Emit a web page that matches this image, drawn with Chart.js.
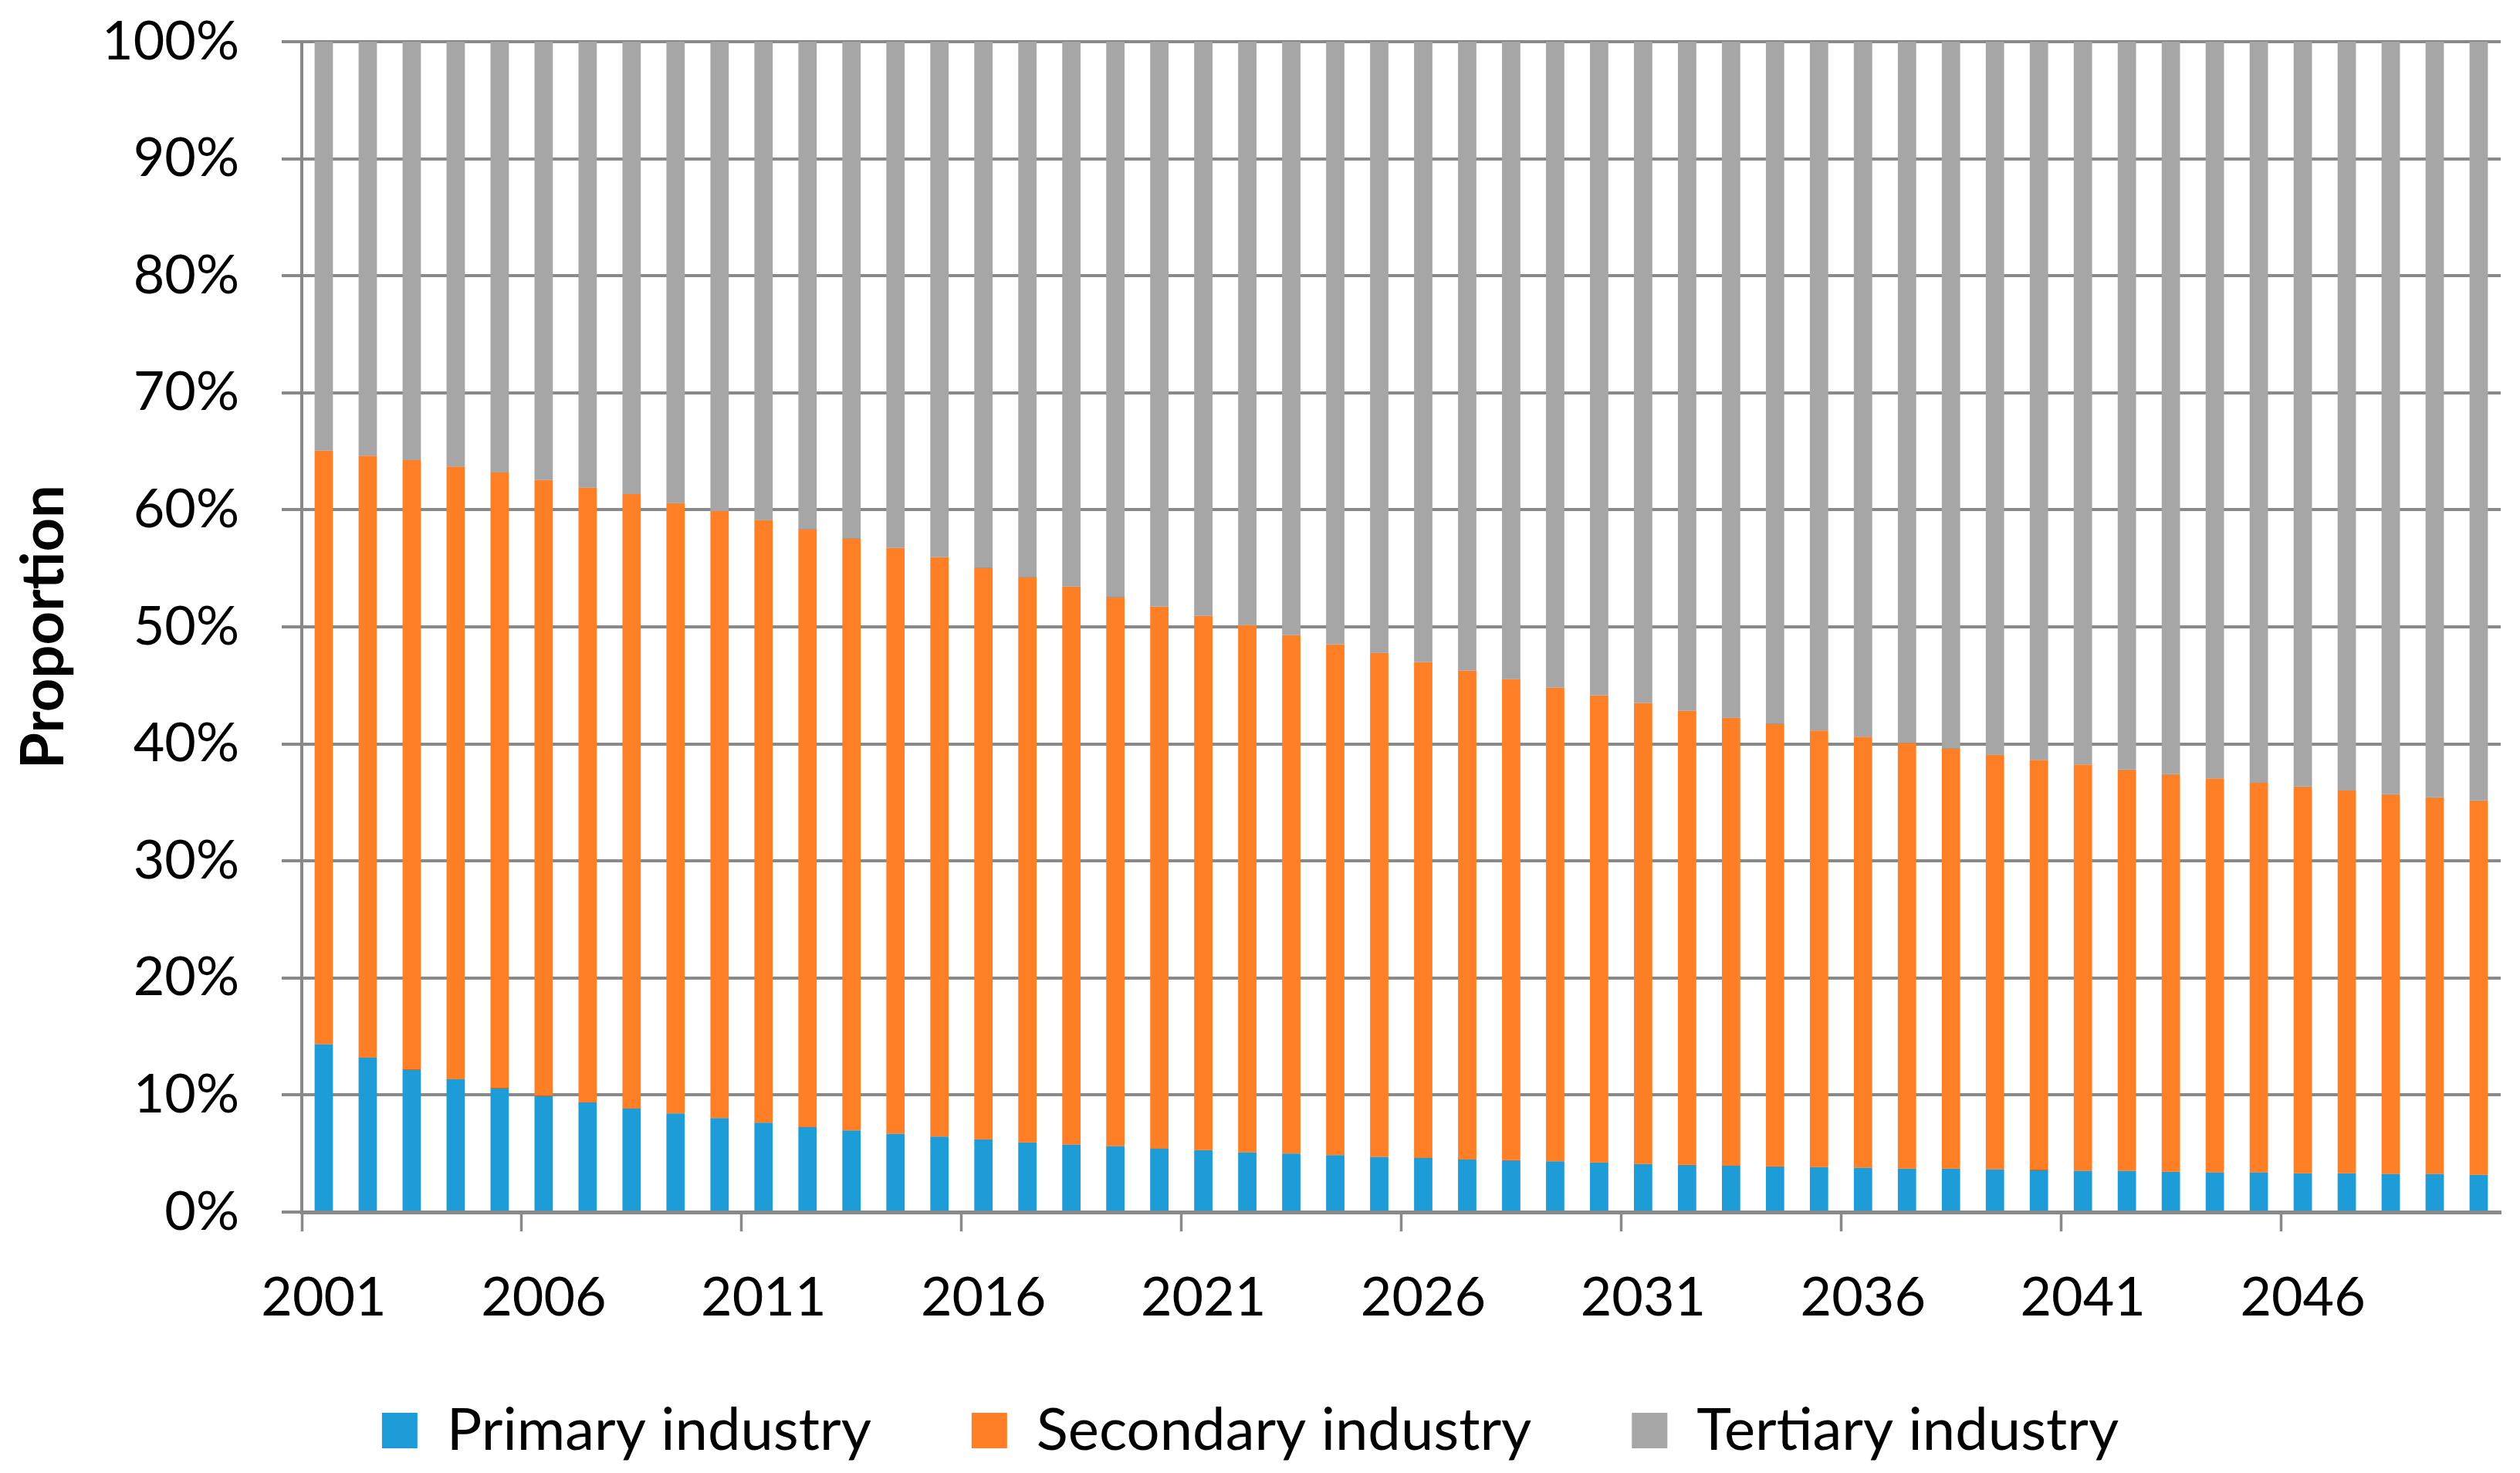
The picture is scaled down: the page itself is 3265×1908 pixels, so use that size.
<!DOCTYPE html>
<html>
<head>
<meta charset="utf-8">
<script src="https://cdn.jsdelivr.net/npm/chart.js@4.4.0/dist/chart.umd.min.js"></script>
<style>
  html, body { margin: 0; padding: 0; background: #fff; }
  canvas { display: block; }
</style>
</head>
<body>
<canvas id="myChart" width="3265" height="1908"></canvas>
<script>
const years = [];
for (let y = 2001; y <= 2050; y++) years.push(String(y));

// proportions in %
const primary = [
    14.34, 13.20, 12.20, 11.35, 10.62, 9.96, 9.42, 8.89, 8.43, 8.03,
    7.63, 7.30, 6.97, 6.70, 6.44, 6.24, 5.97, 5.77, 5.64, 5.46,
    5.31, 5.12, 4.99, 4.86, 4.72, 4.66, 4.53, 4.44, 4.33, 4.26,
    4.13, 4.04, 4.00, 3.91, 3.86, 3.80, 3.73, 3.73, 3.66, 3.62,
    3.53, 3.53, 3.47, 3.40, 3.40, 3.33, 3.33, 3.27, 3.27, 3.20
];
const secondary = [
    50.73, 51.43, 52.04, 52.36, 52.57, 52.61, 52.50, 52.46, 52.17, 51.87,
    51.53, 51.07, 50.61, 50.05, 49.52, 48.84, 48.32, 47.69, 46.94, 46.29,
    45.65, 45.06, 44.31, 43.65, 43.08, 42.34, 41.74, 41.13, 40.49, 39.91,
    39.38, 38.81, 38.26, 37.84, 37.28, 36.81, 36.36, 35.92, 35.44, 35.02,
    34.72, 34.28, 33.94, 33.66, 33.27, 33.03, 32.68, 32.43, 32.17, 31.98
];
const tertiary = [
    34.93, 35.37, 35.76, 36.29, 36.81, 37.43, 38.08, 38.65, 39.40, 40.10,
    40.84, 41.63, 42.42, 43.25, 44.04, 44.92, 45.71, 46.54, 47.42, 48.25,
    49.04, 49.82, 50.70, 51.49, 52.20, 53.00, 53.73, 54.43, 55.18, 55.83,
    56.49, 57.15, 57.74, 58.25, 58.86, 59.39, 59.91, 60.35, 60.90, 61.36,
    61.75, 62.19, 62.59, 62.94, 63.33, 63.64, 63.99, 64.30, 64.56, 64.82
];
const seriesNames = ['Primary industry', 'Secondary industry', 'Tertiary industry'];
const labelStep = 5;

const axisGrey = '#898989';
const fontName = 'Lato';

// the legend box overlaps the x scale a bit, so let the year labels draw below it
const xLabelRoom = {
    id: 'xLabelRoom',
    afterLayout(chart) {
        chart.scales.x.bottom = chart.height;
    }
};

const ctx = document.getElementById('myChart');

new Chart(ctx, {
    type: 'bar',
    data: {
        labels: years,
        datasets: [
            { label: seriesNames[0], data: primary, backgroundColor: '#1e9cd8' },
            { label: seriesNames[1], data: secondary, backgroundColor: '#ff7f27' },
            { label: seriesNames[2], data: tertiary, backgroundColor: '#a6a6a6' }
        ]
    },
    plugins: [xLabelRoom],
    options: {
        responsive: false,
        devicePixelRatio: 1,
        animation: false,
        datasets: {
            bar: { categoryPercentage: 1, barPercentage: 0.417 }
        },
        layout: {
            padding: { left: 0, right: 25, top: 54, bottom: 7 }
        },
        scales: {
            x: {
                stacked: true,
                afterFit: (scale) => {
                    scale.height = 115;
                    scale.paddingLeft = 0;
                    scale.paddingRight = 0;
                },
                grid: {
                    offset: true,
                    drawOnChartArea: false,
                    tickLength: 25,
                    tickWidth: 3.5,
                    tickColor: (c) => (c.index % labelStep === 0 ? axisGrey : 'rgba(0,0,0,0)')
                },
                border: { display: true, color: axisGrey, width: 5 },
                ticks: {
                    autoSkip: false,
                    maxRotation: 0,
                    padding: 44,
                    color: '#000',
                    font: { family: fontName, size: 70 },
                    callback: (val, i) => (i % labelStep === 0 ? years[i] : '')
                }
            },
            y: {
                stacked: true,
                min: 0,
                max: 100,
                afterFit: (scale) => {
                    scale.width = 391;
                    scale.paddingTop = 0;
                    scale.paddingBottom = 0;
                },
                grid: {
                    color: axisGrey,
                    lineWidth: 4,
                    tickLength: 26
                },
                border: { display: true, color: axisGrey, width: 4 },
                ticks: {
                    stepSize: 10,
                    padding: 55,
                    color: '#000',
                    font: { family: fontName, size: 70 },
                    callback: (v) => v + '%'
                },
                title: {
                    display: true,
                    text: 'Proportion',
                    color: '#000',
                    font: { family: fontName, size: 76, weight: 'bold' },
                    padding: { top: 12, bottom: 0 }
                }
            }
        },
        plugins: {
            legend: {
                position: 'bottom',
                labels: {
                    boxWidth: 46,
                    boxHeight: 46,
                    padding: 130,
                    color: '#000',
                    font: { family: fontName, size: 76 }
                }
            },
            tooltip: { enabled: false }
        }
    }
});
</script>
</body>
</html>
